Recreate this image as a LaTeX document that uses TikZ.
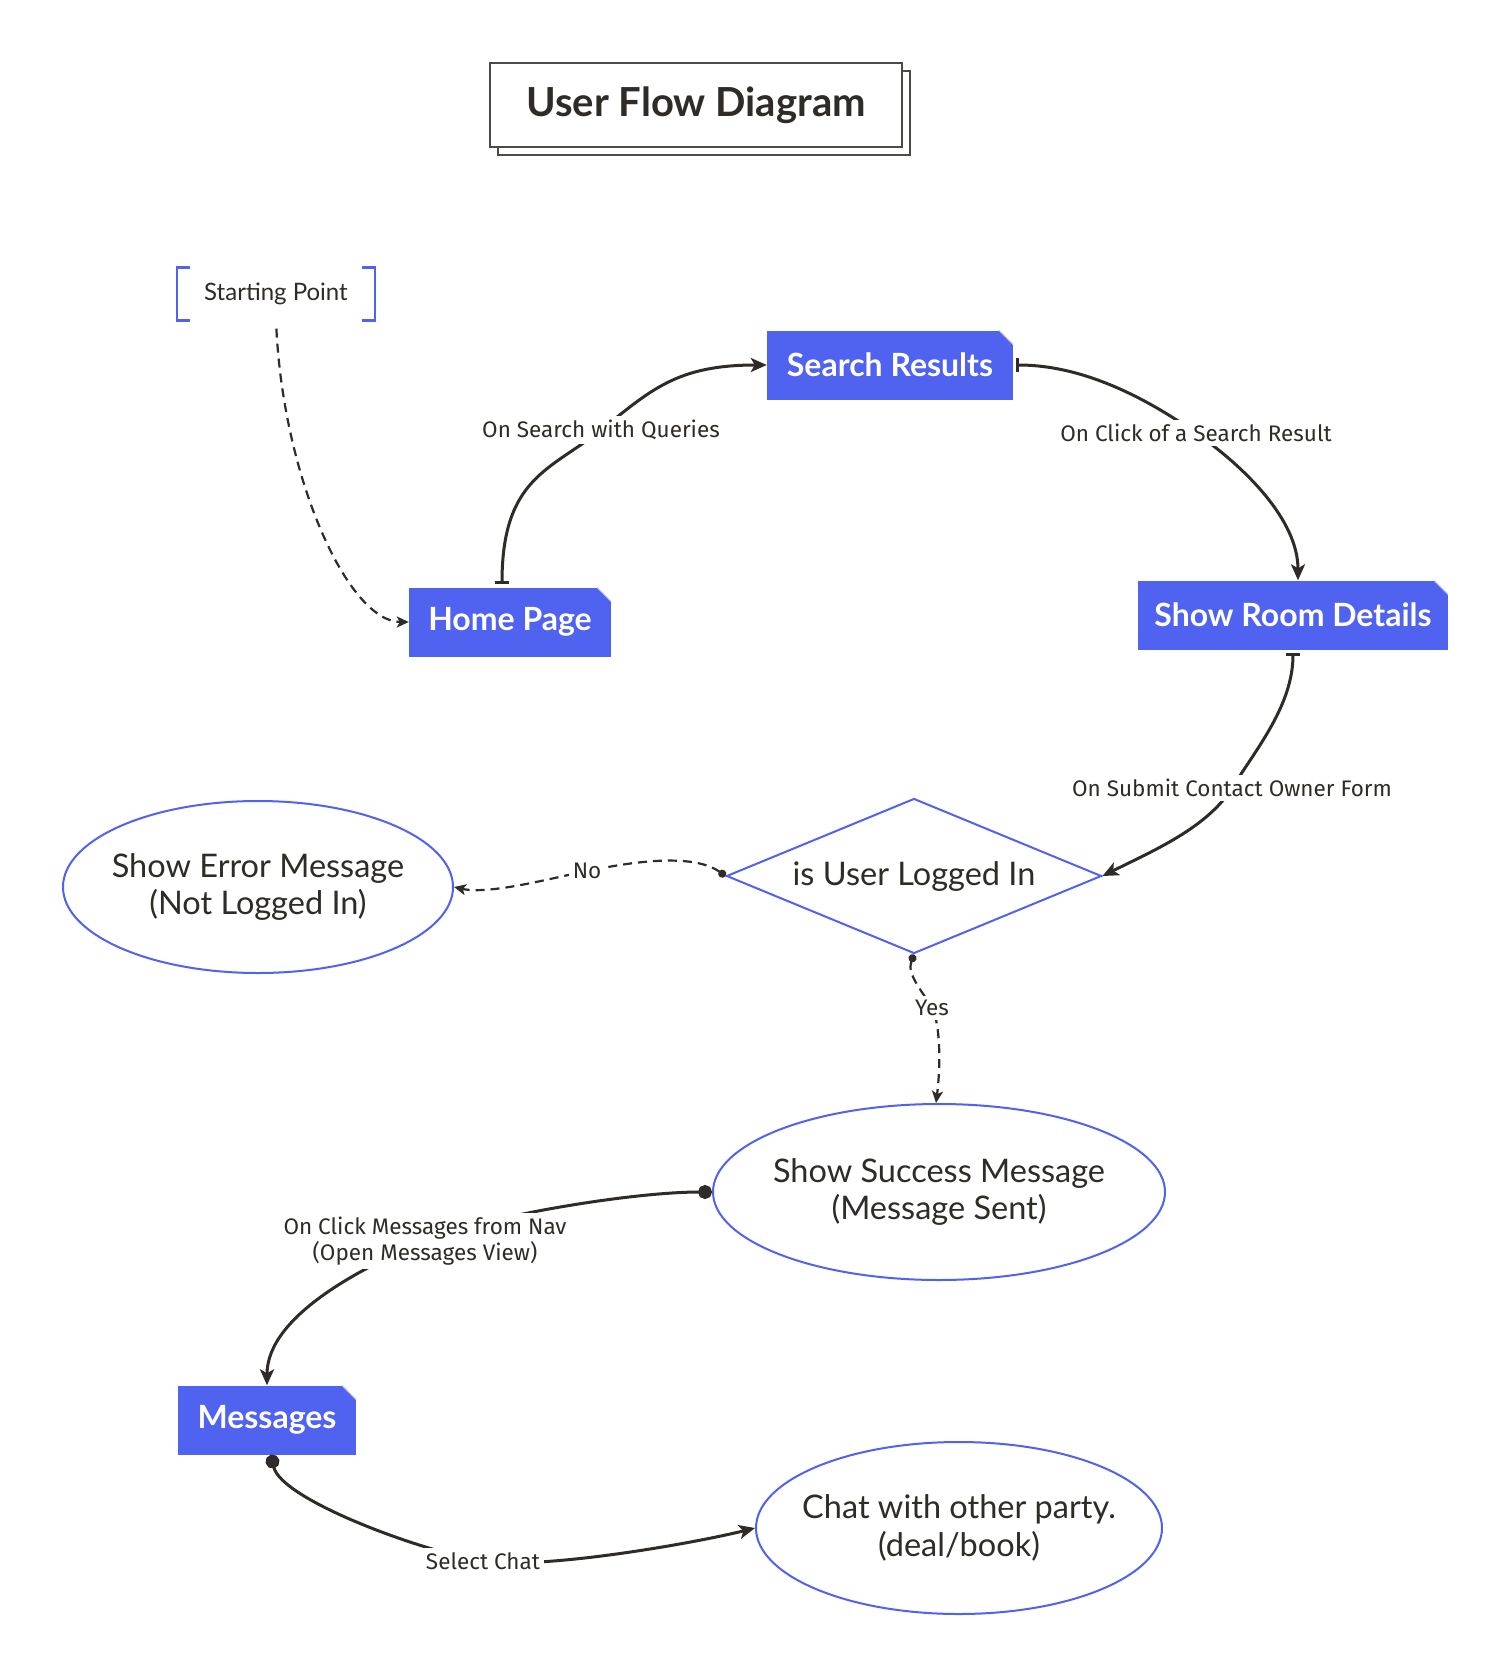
\documentclass[tikz,border=0pt]{standalone}
\usepackage{fontspec}
\setmainfont{Lato}
\newfontfamily\labelfont{Fira Sans}
\usepackage{tikz}
\usetikzlibrary{shapes.geometric,arrows.meta,shadows}
\definecolor{flowblue}{HTML}{4F62F0}
\definecolor{inkdark}{HTML}{2F2B26}

\begin{document}
\begin{tikzpicture}[x=1pt,y=-1pt,
    title_node/.style={draw=inkdark!85,line width=1.5pt,fill=white,minimum width=412pt,minimum height=84pt,
        copy shadow={shadow xshift=8pt,shadow yshift=-8pt},text=inkdark,font=\fontsize{40}{45}\selectfont\bfseries},
    start_node/.style={minimum width=198pt,minimum height=53pt,inner sep=0pt,text=inkdark,font=\fontsize{24}{28}\selectfont},
    page_node/.style={rectangle,fill=flowblue,minimum height=69pt,inner sep=0pt,text=white,
        font=\fontsize{32}{38}\selectfont\bfseries,
        path picture={
            \fill[white] ([xshift=-14pt]path picture bounding box.north east) -| ([yshift=-14pt]path picture bounding box.north east) -- cycle;
            \fill[white] ([xshift=-14pt]path picture bounding box.north east) -- (path picture bounding box.north east) -- ([yshift=-14pt]path picture bounding box.north east) -- cycle;
            \draw[flowblue!45!white,line width=1pt] ([xshift=-14pt]path picture bounding box.north east) -- ([yshift=-14pt]path picture bounding box.north east);}},
    state_node/.style={ellipse,draw=flowblue,line width=2pt,align=center,text=inkdark,inner xsep=-40pt,inner ysep=0pt,
        font=\fontsize{32.5}{37.5}\selectfont},
    check_node/.style={diamond,aspect=2.42,draw=flowblue,line width=2pt,minimum width=375pt,minimum height=155pt,inner sep=0pt,
        text=inkdark,font=\fontsize{32.5}{38}\selectfont},
    flow_label/.style={fill=white,inner sep=4pt,align=center,text=inkdark,font=\labelfont\fontsize{22.5}{26}\selectfont},
    flow/.style={draw=inkdark,line width=3pt},
    dash_flow/.style={draw=inkdark,line width=2.2pt,dash pattern=on 9pt off 6pt},
    bar_flow/.style={flow,{Bar[width=14pt]}-{Stealth[length=16pt,width=14pt,inset=4pt]},shorten <=3pt},
    dot_flow/.style={flow,{Circle[length=14pt]}-{Stealth[length=16pt,width=14pt,inset=4pt]}},
    dot_dash_flow/.style={dash_flow,{Circle[length=8pt]}-{Stealth[length=12pt,width=11pt,inset=3pt]}}]

    \useasboundingbox (0,0) rectangle (1511,1680);
    \fill[white] (0,0) rectangle (1511,1680);

    \node[title_node] (0) at (696,105) {User Flow Diagram};
    \node[start_node] (1) at (276,294) {Starting Point};
    \node[page_node, minimum width=202pt] (2) at (510,622) {Home Page};
    \node[page_node, minimum width=246pt] (3) at (890,365) {Search Results};
    \node[page_node, minimum width=310pt] (4) at (1293,615) {Show Room Details};
    \node[check_node] (5) at (914,876) {is User Logged In};
    \node[state_node, minimum width=390pt, minimum height=172pt] (6) at (258,887) {Show Error Message\\(Not Logged In)};
    \node[state_node, minimum width=452pt, minimum height=176pt] (7) at (939,1192) {Show Success Message\\(Message Sent)};
    \node[page_node, minimum width=178pt] (8) at (267,1420) {Messages};
    \node[state_node, minimum width=406pt, minimum height=172pt] (9) at (959,1528) {Chat with other party.\\(deal/book)};

    \draw[draw=flowblue,line width=2.5pt] ([xshift=13pt]1.north west) -- (1.north west) -- (1.south west) -- ([xshift=13pt]1.south west);
    \draw[draw=flowblue,line width=2.5pt] ([xshift=-13pt]1.north east) -- (1.north east) -- (1.south east) -- ([xshift=-13pt]1.south east);

    \draw[dash_flow, -{Stealth[length=12pt,width=11pt,inset=3pt]}, shorten <=8pt] (1.south) .. controls +(8,160) and +(-60,0) .. (2.west);
    \draw[bar_flow] ([xshift=-8pt]2.north) .. controls +(0,-110) and +(-50,40) .. (601,430) node[flow_label] (10) {On Search with Queries} .. controls +(50,-40) and +(-90,0) .. (3.west);
    \draw[bar_flow] (3.east) .. controls +(70,0) and +(-50,-35) .. (1196,433) node[flow_label] (11) {On Click of a Search Result} .. controls +(50,35) and +(0,-60) .. ([xshift=5pt]4.north);
    \draw[bar_flow] (4.south) .. controls +(0,55) and +(25,-40) .. (1232,788) node[flow_label] (12) {On Submit Contact Owner Form} .. controls +(-25,40) and +(50,-25) .. (5.east);
    \draw[dot_dash_flow] (5.west) .. controls +(-35,-25) and +(35,-7) .. (587,871) node[flow_label] (13) {No} .. controls +(-35,7) and +(35,8) .. (6.east);
    \draw[dot_dash_flow] (5.south) .. controls +(-8,20) and +(-8,-15) .. (932,1008) node[flow_label] (14) {Yes} .. controls +(8,15) and +(5,-40) .. ([xshift=-3pt]7.north);
    \draw[dot_flow] (7.west) .. controls +(-80,0) and +(60,-25) .. (425,1241) node[flow_label] (15) {On Click Messages from Nav\\(Open Messages View)} .. controls +(-60,25) and +(0,-70) .. (8.north);
    \draw[dot_flow] ([xshift=4pt]8.south) .. controls +(10,45) and +(-60,-9) .. (483,1561) node[flow_label] (16) {Select Chat} .. controls +(60,9) and +(-60,15) .. (9.west);

\end{tikzpicture}
\end{document}
